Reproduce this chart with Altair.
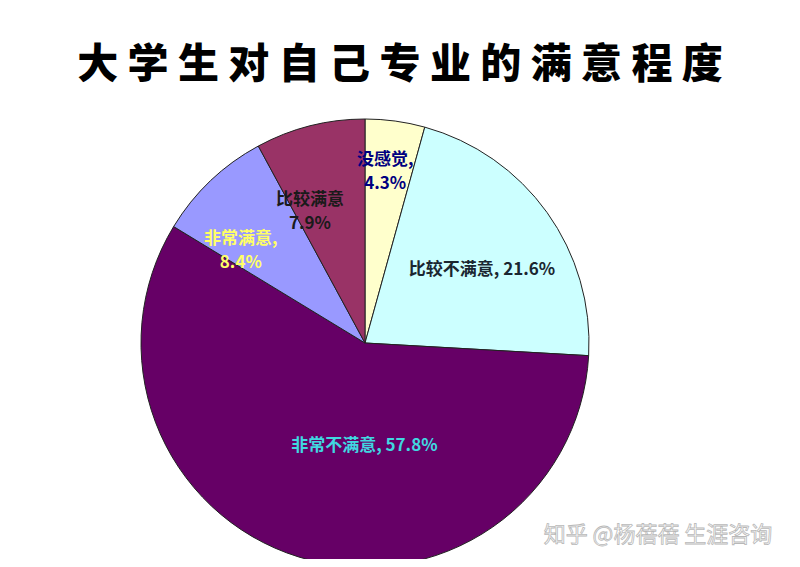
import altair as alt
import pandas as pd

# ---- data ----
categories = ["没感觉", "比较不满意", "非常不满意", "非常满意", "比较满意"]
values = [4.3, 21.6, 57.8, 8.4, 7.9]
labels = ["没感觉,\n4.3%", "比较不满意, 21.6%", "非常不满意, 57.8%", "非常满意,\n8.4%", "比较满意\n7.9%"]
title_text = "大学生对自己专业的满意程度"
watermark = "知乎 @杨蓓蓓 生涯咨询"

# ---- styles ----
slice_colors = ["#FFFFCC", "#CCFFFF", "#660066", "#9999FF", "#993366"]
text_colors = {"没感觉": "#000080", "比较不满意": "#1a2630", "非常不满意": "#40d8e0",
               "非常满意": "#ffff66", "比较满意": "#1a1a1a"}
label_radius = {"没感觉": 184, "比较不满意": 138, "非常不满意": 103, "非常满意": 162, "比较满意": 153}
label_nudge = {"没感觉": -0.4, "比较不满意": 1.0, "非常不满意": -4.7, "非常满意": -1.8, "比较满意": -1.9}

CX, CY, R = 357, 335, 224

df = pd.DataFrame({"cat": categories, "value": values, "label": labels,
                   "idx": list(range(len(categories)))})

def js_map(d):
    return "{" + ",".join(f"'{k}':{repr(v) if isinstance(v, str) else v}" for k, v in d.items()) + "}"

base = alt.Chart(df)

pie = base.mark_arc(stroke="#222", strokeWidth=1).encode(
    theta=alt.Theta("value:Q", stack=True, scale=alt.Scale(domain=[0, 100], range=[0, 6.283185])),
    color=alt.Color("cat:N", scale=alt.Scale(domain=categories, range=slice_colors), legend=None),
    order=alt.Order("idx:Q"),
    x=alt.value(CX), y=alt.value(CY),
    radius=alt.value(R),
)

txt = base.transform_window(
    cum="sum(value)", sort=[alt.SortField("idx")]
).transform_calculate(
    lt=f"datum.cum - datum.value/2 + {js_map(label_nudge)}[datum.cat]",
    lr=f"{js_map(label_radius)}[datum.cat]",
    tc=f"{js_map(text_colors)}[datum.cat]",
).mark_text(fontSize=17, fontWeight="bold", font="Noto Sans CJK SC",
            lineBreak="\n", lineHeight=24, align="center", baseline="middle").encode(
    theta=alt.Theta("lt:Q", scale=alt.Scale(domain=[0, 100], range=[0, 6.283185])),
    radius=alt.Radius("lr:Q", scale=None),
    x=alt.value(CX), y=alt.value(CY),
    text="label:N",
    color=alt.Color("tc:N", scale=None),
)

title = alt.Chart(pd.DataFrame({"t": [" ".join(title_text)]})).mark_text(
    fontSize=41, fontWeight=900, font="Noto Sans CJK SC", color="#000",
    align="center", baseline="middle").encode(
    text="t:N", x=alt.value(392), y=alt.value(58))

wm = alt.Chart(pd.DataFrame({"t": [watermark]})).mark_text(
    fontSize=22, font="Noto Sans CJK SC", fill="#ffffff", stroke="#b8b8b8", strokeWidth=0.8,
    align="center", baseline="middle").encode(
    text="t:N", x=alt.value(650), y=alt.value(527))

chart = alt.layer(pie, txt, title, wm).resolve_scale(theta="independent", color="independent").properties(
    width=784, height=551, autosize=alt.AutoSizeParams(type="none"), padding=0,
    background="white",
).configure_view(stroke=None)

chart.save("out.html", embed_options={"renderer": "svg", "actions": False})
